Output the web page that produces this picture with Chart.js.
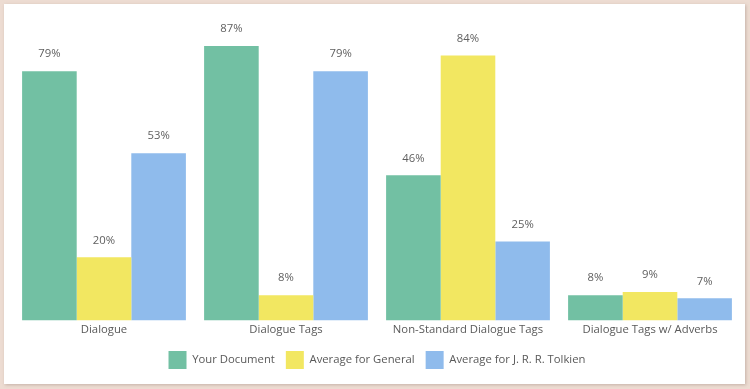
<!DOCTYPE html>
<html><head><meta charset="utf-8">
<script src="https://cdn.jsdelivr.net/npm/chart.js@4/dist/chart.umd.min.js"></script>
<style>
html,body{margin:0;padding:0;background:#eddcd2;width:750px;height:389px;overflow:hidden}
#panel{position:absolute;left:4px;top:4px;width:741px;height:380px;background:#fff;box-shadow:1px 1px 3px rgba(120,100,90,0.35)}
canvas{display:block}
</style></head><body>
<div id="panel"><canvas id="c" width="741" height="380"></canvas></div>
<script>
const categories = ["Dialogue", "Dialogue Tags", "Non-Standard Dialogue Tags", "Dialogue Tags w/ Adverbs"];
const seriesNames = ["Your Document", "Average for General", "Average for J. R. R. Tolkien"];
const yourDocument = [79, 87, 46, 8];
const averageGeneral = [20, 8, 84, 9];
const averageTolkien = [53, 79, 25, 7];
const colors = ["#72c0a3", "#f2e761", "#8fbbec"];
const FONT = '"Open Sans", sans-serif';
const FSIZE = 11.3;

const labelPlugin = {
  id: 'valueLabels',
  afterDatasetsDraw(chart) {
    const ctx = chart.ctx;
    ctx.save();
    ctx.font = FSIZE + 'px ' + FONT;
    ctx.fillStyle = '#5f5f5f';
    ctx.textAlign = 'center';
    ctx.textBaseline = 'middle';
    chart.data.datasets.forEach((ds, i) => {
      const meta = chart.getDatasetMeta(i);
      meta.data.forEach((bar, j) => {
        ctx.fillText(ds.data[j] + '%', bar.x, bar.y - 17);
      });
    });
    ctx.restore();
  }
};

new Chart(document.getElementById('c'), {
  type: 'bar',
  data: {
    labels: categories,
    datasets: [
      { label: seriesNames[0], data: yourDocument, backgroundColor: colors[0] },
      { label: seriesNames[1], data: averageGeneral, backgroundColor: colors[1] },
      { label: seriesNames[2], data: averageTolkien, backgroundColor: colors[2] }
    ]
  },
  options: {
    responsive: false,
    animation: false,
    devicePixelRatio: 1,
    layout: { padding: { left: 9, right: 4, top: 1, bottom: 5 } },
    datasets: { bar: { categoryPercentage: 0.9, barPercentage: 1.0 } },
    scales: {
      x: {
        grid: { display: false, drawTicks: false },
        border: { display: false },
        ticks: { color: '#595959', font: { family: FONT, size: FSIZE }, padding: 3, maxRotation: 0 }
      },
      y: { display: false, min: 0, max: 100 }
    },
    plugins: {
      legend: {
        position: 'bottom',
        labels: {
          boxWidth: 18, boxHeight: 18, padding: 11,
          color: '#595959',
          font: { family: FONT, size: FSIZE }
        }
      },
      tooltip: { enabled: false }
    }
  },
  plugins: [labelPlugin]
});
</script>
</body></html>
